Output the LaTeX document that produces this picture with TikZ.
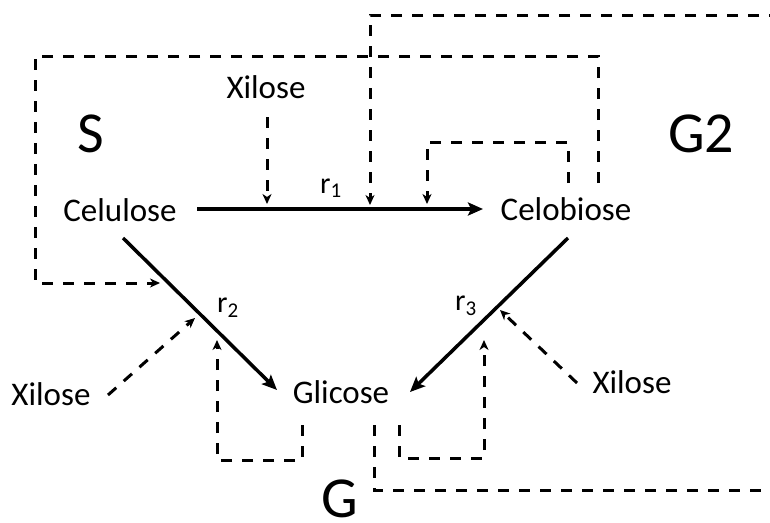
\documentclass[tikz,border=0pt]{standalone}
\usepackage{fontspec}
\setmainfont{Carlito}
\usetikzlibrary{arrows.meta}
\begin{document}
\begin{tikzpicture}[x=1pt,y=-1pt,
  lbl/.style={font=\fontsize{33}{40}\selectfont, inner sep=0pt, anchor=base},
  big/.style={font=\fontsize{58}{70}\selectfont, inner sep=0pt, anchor=base},
  rlbl/.style={font=\fontsize{30}{36}\selectfont, inner sep=0pt, anchor=base west},
  rx/.style={line width=3.5pt, -{Stealth[length=15pt,width=13pt,inset=3pt]}},
  dsh/.style={line width=3pt, dash pattern=on 11pt off 10pt},
  dar/.style={dsh, -{Stealth[length=10pt,width=9pt,inset=3pt]}},
]
\useasboundingbox (0,0) rectangle (770,522);

% texts
\node[lbl] (cel) at (120,221) {Celulose};
\node[lbl] (cbi) at (566,220) {Celobiose};
\node[lbl] (gli) at (341,403) {Glicose};
\node[lbl] (x1) at (266,98) {Xilose};
\node[lbl] (x2) at (51,405) {Xilose};
\node[lbl] (x3) at (632,393) {Xilose};
\node[big] (S) at (91,152) {S};
\node[big] (G2) at (701,152) {G2};
\node[big] (G) at (340,517) {G};
\node[rlbl] (r1) at (320,193) {r\textsubscript{1}};
\node[rlbl] (r2) at (217,312) {r\textsubscript{2}};
\node[rlbl] (r3) at (455,310) {r\textsubscript{3}};

% reaction arrows
\coordinate (r1s) at (197,209); \coordinate (r1e) at (483,209);
\coordinate (r2s) at (123,238); \coordinate (r2e) at (277,390);
\coordinate (r3s) at (568,238); \coordinate (r3e) at (410,392);
\draw[rx] (r1s) -- (r1e);
\draw[rx] (r2s) -- (r2e);
\draw[rx] (r3s) -- (r3e);

% xilose inhibitions
\coordinate (x1a) at (267,117); \coordinate (x1b) at (267,204);
\draw[dar] (x1a) -- (x1b);
\coordinate (x2a) at (108,395); \coordinate (x2b) at (195,318);
\draw[dar] (x2a) -- (x2b);
\coordinate (x3a) at (577,383); \coordinate (x3b) at (500,310);
\draw[dar] (x3a) -- (x3b);

% outer loop Celobiose -> r2
\coordinate (oa) at (598,183); \coordinate (ob) at (160,283);
\draw[dar] (oa) -- (598,56) -- (35,56) -- (35,283) -- (ob);

% small loop Celobiose -> r1
\coordinate (sa) at (568,183); \coordinate (sb) at (427,204);
\draw[dar] (sa) -- (568,142) -- (427,142) -- (sb);

% G loop Glicose -> r1
\coordinate (ga) at (374,425); \coordinate (gb) at (370,205);
\draw[dsh] (ga) -- (374,490) -- (780,490);
\draw[dar] (780,15) -- (370,15) -- (gb);

% Glicose self loops
\coordinate (la) at (302,425); \coordinate (lb) at (217,340);
\draw[dar] (la) -- (302,460) -- (217,460) -- (lb);
\coordinate (ra) at (399,425); \coordinate (rb) at (484,340);
\draw[dar] (ra) -- (399,458) -- (484,458) -- (rb);
\end{tikzpicture}
\end{document}
